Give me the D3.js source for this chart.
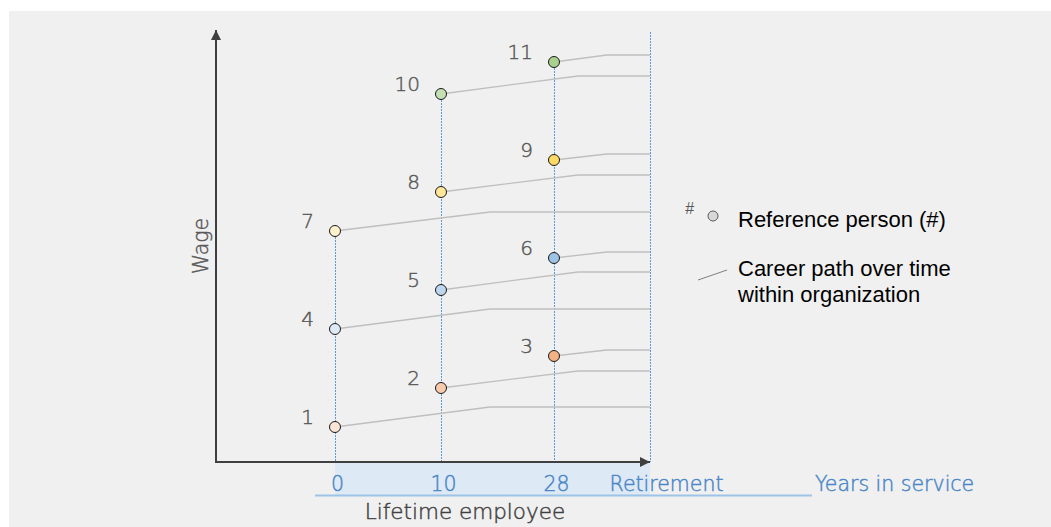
<!DOCTYPE html>
<html><head><meta charset="utf-8">
<script src="https://cdn.jsdelivr.net/npm/d3@7"></script>
<style>
html,body{margin:0;padding:0;background:#fff;}
svg{display:block;}
</style></head>
<body>
<svg id="c" width="1051" height="527"></svg>
<script>
// ---- data ----
const people      = [1, 2, 3, 4, 5, 6, 7, 8, 9, 10, 11];
const startYears  = [0, 10, 28, 0, 10, 28, 0, 10, 28, 10, 28];
const startWage   = [35, 74, 106, 133, 172, 204, 231, 270, 302, 368, 400];
const bendYears   = [17.8, 31, 34.6, 17.8, 31, 34.6, 17.8, 31, 34.6, 31, 34.6];
const bendWage    = [55, 91, 112, 153, 190, 210, 250, 287, 308, 386, 407];
const retirementYear = 40;
const fills = ["#fbe5d6","#f8cbad","#f4b183","#deebf7","#bdd7ee","#9dc3e6","#fff2cc","#ffe699","#ffd966","#c5e0b4","#a9d18e"];
const tickValues = [0, 10, 28, 40];
const tickLabels = ["0", "10", "28", "Retirement"];
const wageMax = 432;

// ---- layout ----
const svg = d3.select("#c");
const W = 1051, H = 527;
const axisX0 = 216, axisY0 = 462, axisTop = 30;

svg.append("rect").attr("x", 9).attr("y", 11).attr("width", W - 9).attr("height", H - 11).attr("fill", "#f0f0f0");

const x = d3.scaleLinear().domain(tickValues).range([335, 441, 554, 650]);
const y = d3.scaleLinear().domain([0, wageMax]).range([axisY0, axisTop]);

// shaded band under x-axis
svg.append("rect").attr("x", x(0)).attr("y", axisY0 + 1).attr("width", x(retirementYear) - x(0)).attr("height", 33).attr("fill", "#dde9f5");
svg.append("line").attr("x1", 315).attr("x2", 812).attr("y1", 495.5).attr("y2", 495.5).attr("stroke", "#9dc3e6").attr("stroke-width", 2);

// vertical dotted guides
const topWageAt = yr => d3.max(people.filter((p,i)=>startYears[i]===yr).map(p=>startWage[p-1]));
const guideTops = [
  {yr: 0, w: topWageAt(0)},
  {yr: 10, w: topWageAt(10)},
  {yr: 28, w: topWageAt(28)},
  {yr: retirementYear, w: wageMax - 2}
];
svg.selectAll("line.guide").data(guideTops).join("line").attr("class","guide")
  .attr("x1", d => x(d.yr)+0.5).attr("x2", d => x(d.yr)+0.5)
  .attr("y1", d => y(d.w)).attr("y2", axisY0)
  .attr("stroke", "#5b9bd5").attr("stroke-width", 1).attr("stroke-dasharray", "2,1");

// career paths
const lineGen = d3.line().x(d => x(d[0])).y(d => y(d[1]));
svg.selectAll("path.career").data(people).join("path").attr("class","career")
  .attr("d", p => { const i = p-1; return lineGen([[startYears[i], startWage[i]],[bendYears[i], bendWage[i]],[retirementYear, bendWage[i]]]); })
  .attr("fill", "none").attr("stroke", "#bfbfbf").attr("stroke-width", 1.3);

// axes with arrows
const defs = svg.append("defs");
defs.append("marker").attr("id","arr").attr("viewBox","0 0 10 10").attr("refX",10).attr("refY",5)
  .attr("markerWidth",5).attr("markerHeight",5).attr("markerUnits","strokeWidth").attr("orient","auto")
  .append("path").attr("d","M0,0 L10,5 L0,10 z").attr("fill","#404040");
svg.append("path").attr("d", `M${axisX0},${axisY0} L${axisX0},${axisTop}`).attr("stroke","#404040").attr("stroke-width",2).attr("fill","none").attr("marker-end","url(#arr)");
svg.append("path").attr("d", `M${axisX0-1},${axisY0} L${x(retirementYear)},${axisY0}`).attr("stroke","#404040").attr("stroke-width",2).attr("fill","none").attr("marker-end","url(#arr)");

// points
svg.selectAll("circle.pt").data(people).join("circle").attr("class","pt")
  .attr("cx", p => x(startYears[p-1])).attr("cy", p => y(startWage[p-1])).attr("r", 5.5)
  .attr("fill", p => fills[p-1]).attr("stroke", "#1a1a1a").attr("stroke-width", 1);

const gothic = "'DejaVu Sans',sans-serif";
const gw = 200;
function thin(sel, color) {
  return sel.attr("font-family", gothic).attr("font-weight", gw).attr("fill", color)
    .attr("stroke", color).attr("stroke-width", 0.45);
}
thin(svg.selectAll("text.num").data(people).join("text").attr("class","num")
  .attr("x", p => x(startYears[p-1]) - 21).attr("y", p => y(startWage[p-1]) - 3)
  .attr("text-anchor","end").attr("font-size", 20), "#595959")
  .text(p => p);

// x tick labels via axis
const xAxis = d3.axisBottom(x).tickValues(tickValues).tickFormat((d,i) => tickLabels[i]).tickSize(0).tickPadding(0);
const gx = svg.append("g").attr("transform", `translate(0,${axisY0})`).call(xAxis);
gx.select(".domain").remove();
gx.selectAll(".tick line").remove();
thin(gx.selectAll("text").attr("y", 29).attr("dy", 0).attr("font-size", 20.5), "#4a86c8")
  .attr("dx", (d) => d === retirementYear ? 16 : 2);

thin(svg.append("text").attr("x", 815).attr("y", 491).attr("font-size", 20.5), "#4a86c8").text("Years in service");
thin(svg.append("text").attr("x", 465).attr("y", 519).attr("text-anchor","middle").attr("font-size", 21.5), "#404040").text("Lifetime employee");
thin(svg.append("text").attr("transform","translate(208,246) rotate(-90)").attr("text-anchor","middle").attr("font-size", 20.5), "#595959").text("Wage");

// legend
const arial = "'Liberation Sans',Arial,sans-serif";
svg.append("text").attr("x", 685).attr("y", 214).attr("font-family", arial).attr("font-style","italic").attr("font-size", 16).attr("fill","#595959").text("#");
svg.append("circle").attr("cx", 713).attr("cy", 216).attr("r", 5).attr("fill","#d9d9d9").attr("stroke","#595959").attr("stroke-width",1);
svg.append("text").attr("x", 738).attr("y", 227).attr("font-family", arial).attr("font-size", 22).attr("fill","#000").text("Reference person (#)");
svg.append("line").attr("x1", 698).attr("y1", 280).attr("x2", 727).attr("y2", 270).attr("stroke","#808080").attr("stroke-width",1);
svg.append("text").attr("x", 738).attr("y", 276).attr("font-family", arial).attr("font-size", 22).attr("fill","#000").text("Career path over time");
svg.append("text").attr("x", 738).attr("y", 302).attr("font-family", arial).attr("font-size", 22).attr("fill","#000").text("within organization");
</script>
</body></html>
